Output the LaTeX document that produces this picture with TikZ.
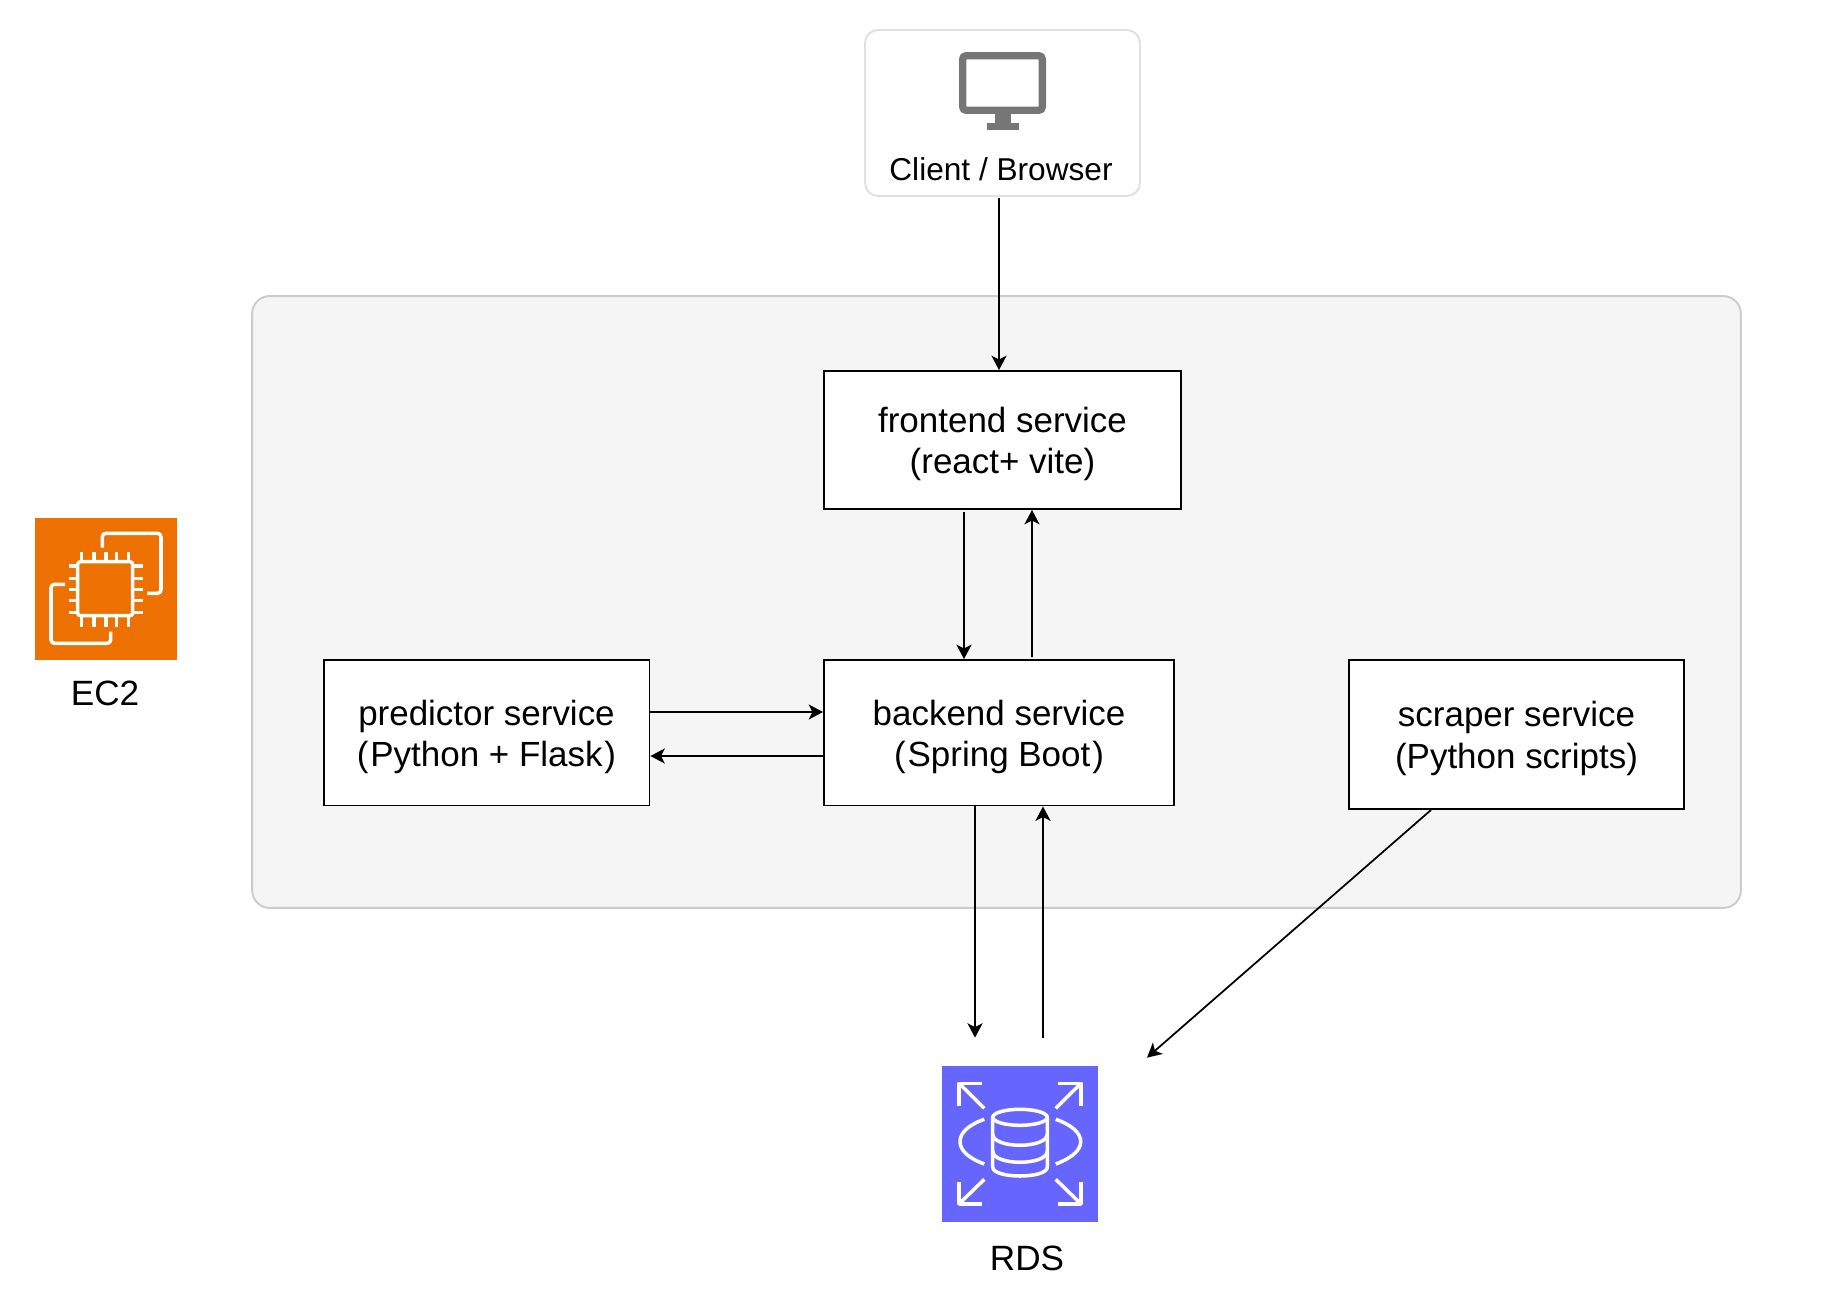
\documentclass[tikz,border=0pt]{standalone}
\usepackage{fontspec}
\usepackage{xcolor}
\setmainfont{Liberation Sans}
\usetikzlibrary{arrows.meta, calc}
\definecolor{panelfill}{HTML}{F5F5F5}
\definecolor{panelline}{HTML}{CCCCCC}
\definecolor{clientline}{HTML}{E0E0E0}
\definecolor{monitorgray}{HTML}{767676}
\definecolor{ectwo}{HTML}{ED7100}
\definecolor{rdsblue}{HTML}{6666FF}
\tikzset{
    service/.style={draw=black, fill=white, line width=1.1pt, inner sep=0pt, align=center, text height=1.5cm, text depth=0.15cm, font=\fontsize{19.9}{23.6}\selectfont},
    flow/.style={-{Stealth[length=8.2pt, width=8.6pt, inset=2.2pt]}, line width=1pt},
    caption/.style={anchor=base, inner sep=0pt, font=\fontsize{20}{23}\selectfont},
    iconline/.style={draw=white, line width=2pt, fill=none, line join=round},
}

\begin{document}
\begin{tikzpicture}[x=0.02cm, y=-0.02cm]
        \useasboundingbox (0, 0) rectangle (1826, 1295);

        \node (panel) at (996.5, 602) [draw=panelline, fill=panelfill, line width=1.1pt, rounded corners=10pt, minimum width=29.78cm, minimum height=12.24cm] {};

        \node (client) at (1002.5, 113) [draw=clientline, fill=white, line width=1.1pt, rounded corners=7.4pt, minimum width=5.5cm, minimum height=3.32cm] {};
        \node (clientlabel) at (1001, 180.5) [caption, font=\fontsize{18}{21}\selectfont] {Client / Browser};
        \draw [monitorgray, line width=4.2pt, rounded corners=2pt] (962.7, 55.7) rectangle (1042.3, 110.3);
        \fill [monitorgray] (995, 112) rectangle (1011, 123);
        \fill [monitorgray] (987, 123) rectangle (1019, 130);

        \node (frontend) at (1002.5, 440) [service, minimum width=7.14cm, minimum height=2.76cm] {frontend service\\(react+ vite)};
        \node (predictor) at (486.5, 732.75) [service, minimum width=6.52cm, minimum height=2.91cm] {predictor service\\(\kern1pt Python + Flask\kern1pt)};
        \node (backend) at (999, 732.75) [service, minimum width=7cm, minimum height=2.91cm] {backend service\\(\kern1.1pt Spring Boot\kern1.1pt)};
        \node (scraper) at (1516.5, 734.5) [service, minimum width=6.7cm, minimum height=2.98cm] {scraper service\\(Python scripts)};

        \node (ec2) at (106, 589) [fill=ectwo, minimum width=2.84cm, minimum height=2.85cm, inner sep=0pt] {};
        \node (ec2label) at (105, 705) [caption] {EC2};
        \draw [iconline, rounded corners=1.5pt] (77.7, 561.7) rectangle (132.7, 615.7);
        \foreach \px in {81.7, 94, 106, 116.7, 128.3} {
            \draw [iconline] (\px, 552.3) -- (\px, 561);
            \draw [iconline] (\px, 617) -- (\px, 626.7);
        }
        \foreach \py in {566, 578.3, 589.3, 600.7, 612.7} {
            \draw [iconline] (69.3, \py) -- (77, \py);
            \draw [iconline] (133.5, \py) -- (142.7, \py);
        }
        \draw [iconline, rounded corners=2pt] (102.3, 547.7) -- (102.3, 533.3) -- (161, 533.3) -- (161, 593.3) -- (147, 593.3);
        \draw [iconline, rounded corners=2pt] (65, 584.3) -- (51, 584.3) -- (51, 643.3) -- (110.7, 643.3) -- (110.7, 631.7);

        \node (rds) at (1020, 1144) [fill=rdsblue, minimum width=3.12cm, minimum height=3.12cm, inner sep=0pt] {};
        \node (rdslabel) at (1027, 1270) [caption] {RDS};
        \foreach \cx/\cy/\ex/\ey/\dx/\dy in {959/1083.3/981.7/1105.7/984.3/1108.3, 1081/1083.3/1058.3/1105.7/1055.7/1108.3, 959/1204/981.7/1182/984.3/1179.3, 1081/1204/1058.3/1182/1055.7/1179.3} {
            \draw [iconline] (\cx, \ey) -- (\cx, \cy) -- (\ex, \cy);
            \draw [iconline] (\cx, \cy) -- (\dx, \dy);
        }
        \draw [iconline] (1020, 1117.3) ellipse [x radius=27.3, y radius=8];
        \draw [iconline] (992.7, 1117.3) -- (992.7, 1167) .. controls (992.7, 1179) and (1047.3, 1179) .. (1047.3, 1167) -- (1047.3, 1117.3);
        \foreach \ay in {1134, 1151} {
            \draw [iconline] (992.7, \ay) .. controls (992.7, \ay + 15) and (1047.3, \ay + 15) .. (1047.3, \ay);
        }
        \draw [iconline] (984.3, 1119.3) .. controls (968, 1125) and (960, 1133) .. (960, 1141.7) .. controls (960, 1150) and (968, 1158) .. (984.3, 1164);
        \draw [iconline] (1055.7, 1119.3) .. controls (1072, 1125) and (1080.7, 1133) .. (1080.7, 1141.7) .. controls (1080.7, 1150) and (1072, 1158) .. (1055.7, 1164);

        \draw [flow] ($(client.south) + (-3.5, 1.5)$) -- ($(frontend.north) + (-3.5, 0)$);
        \draw [flow] ($(frontend.south) + (-38.5, 2)$) -- ($(backend.north) + (-35, 0)$);
        \draw [flow] ($(backend.north) + (33, -2)$) -- ($(frontend.south) + (29.5, 0)$);
        \draw [flow] ($(predictor.east) + (0, -20.75)$) -- ($(backend.west) + (0, -20.75)$);
        \draw [flow] ($(backend.west) + (0, 23.25)$) -- ($(predictor.east) + (0, 23.25)$);
        \draw [flow] ($(backend.south) + (-24, 0)$) -- ($(rds.north) + (-45, -28)$);
        \draw [flow] ($(rds.north) + (23, -28)$) -- ($(backend.south) + (44, 0)$);
        \draw [flow] ($(scraper.south) + (-85.5, 0)$) -- ($(rds.north) + (127, -8)$);
    \end{tikzpicture}
\end{document}
